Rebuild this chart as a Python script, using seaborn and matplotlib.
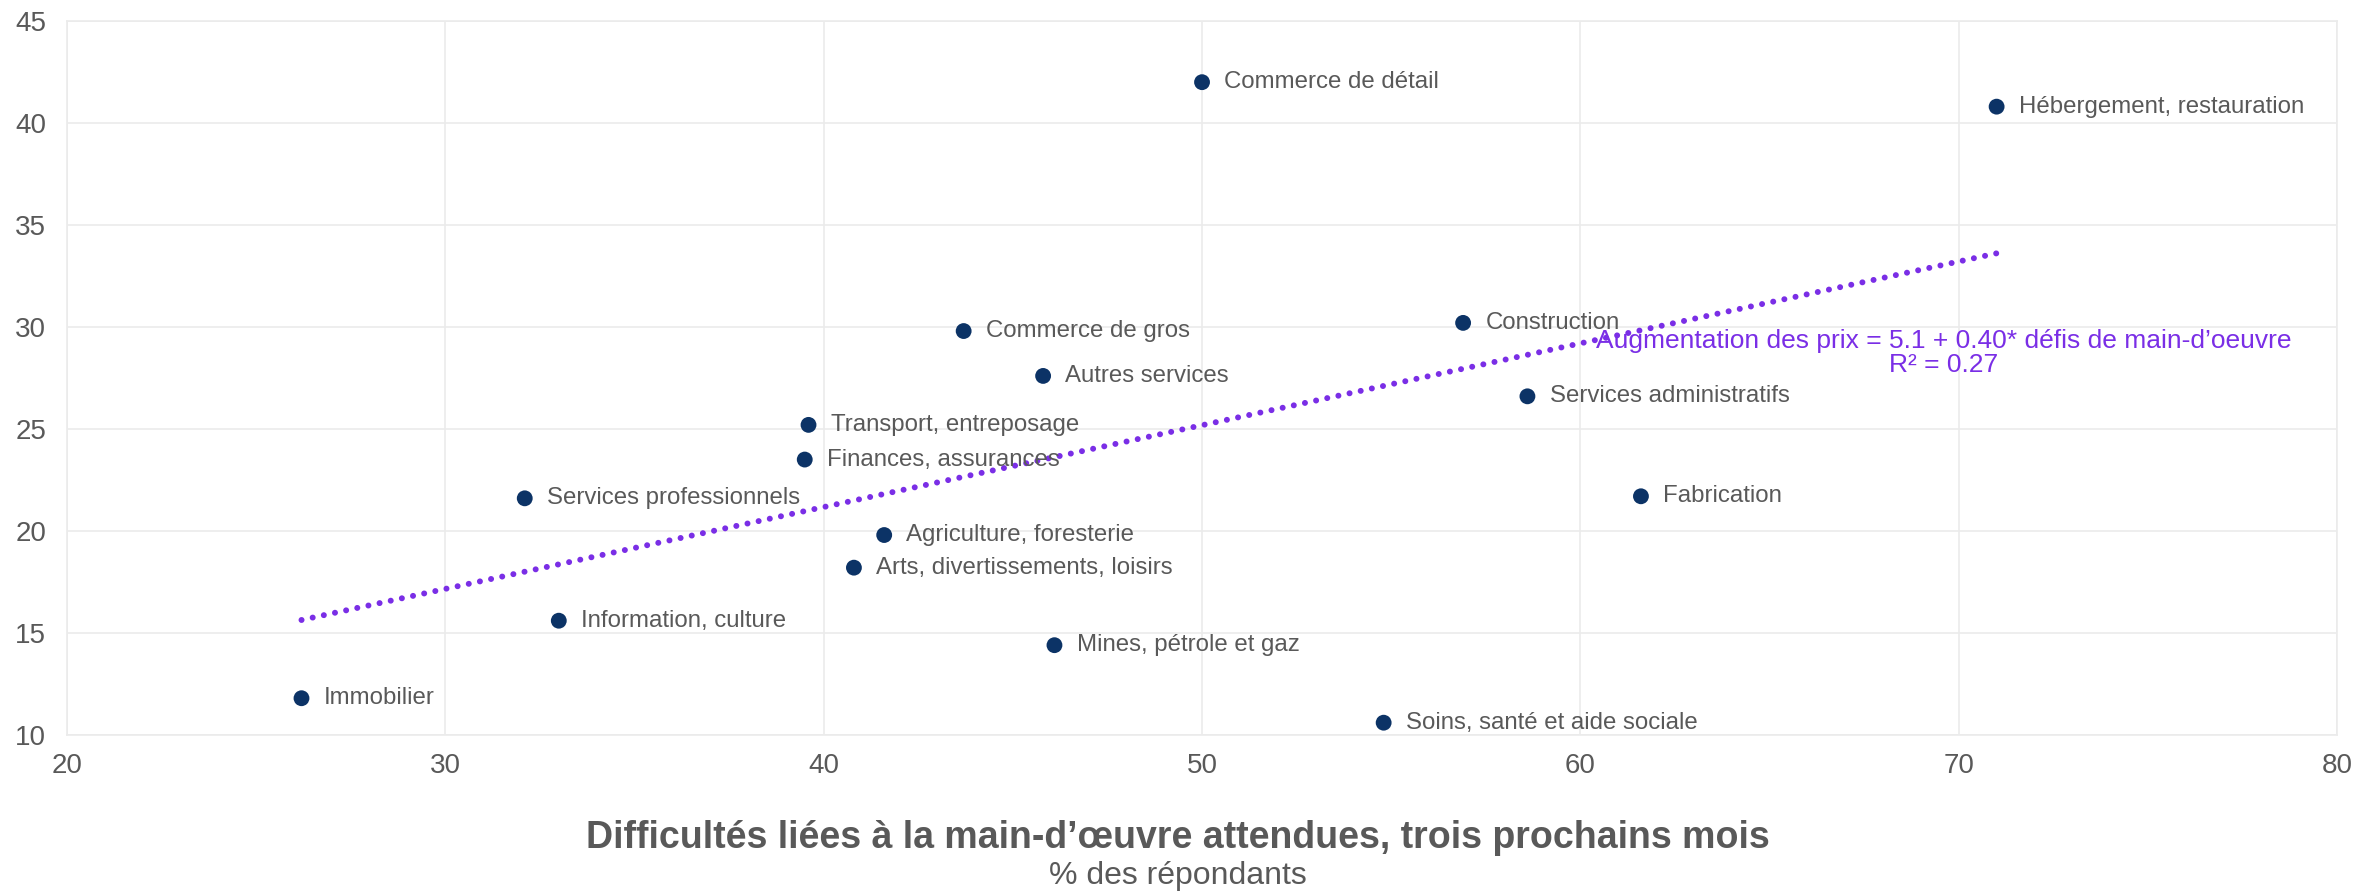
import numpy as np
import pandas as pd
import matplotlib
matplotlib.use("Agg")
import matplotlib.pyplot as plt
import seaborn as sns

# Data
sectors = [
    "Immobilier", "Information, culture", "Services professionnels",
    "Finances, assurances", "Transport, entreposage", "Agriculture, foresterie",
    "Arts, divertissements, loisirs", "Commerce de gros", "Autres services",
    "Mines, pétrole et gaz", "Commerce de détail", "Soins, santé et aide sociale",
    "Construction", "Services administratifs", "Fabrication",
    "Hébergement, restauration",
]
labour_difficulty = [26.2, 33.0, 32.1, 39.5, 39.6, 41.6, 40.8, 43.7, 45.8,
                     46.1, 50.0, 54.8, 56.9, 58.6, 61.6, 71.0]
price_increase = [11.8, 15.6, 21.6, 23.5, 25.2, 19.8, 18.2, 29.8, 27.6,
                  14.4, 42.0, 10.6, 30.2, 26.6, 21.7, 40.8]

x_ticks = [20, 30, 40, 50, 60, 70, 80]
y_ticks = [10, 15, 20, 25, 30, 35, 40, 45]

df = pd.DataFrame({"secteur": sectors, "x": labour_difficulty, "y": price_increase})

navy = "#0C3366"
purple = "#7A2EE6"
grey_txt = "#595959"
grid_col = "#EBEBEB"

sns.set_style("white")
plt.rcParams["font.family"] = ["Liberation Sans", "DejaVu Sans"]

fig = plt.figure(figsize=(23.56, 8.93), dpi=100)
ax = fig.add_axes([0.0284, 0.177, 0.9636, 0.7995])

# trend line (least squares fit over the data)
sns.regplot(data=df, x="x", y="y", scatter=False, ci=None, ax=ax,
            line_kws={"color": purple, "linestyle": (0, (0.01, 1.9)),
                      "linewidth": 4.3, "dash_capstyle": "round"})
sns.scatterplot(data=df, x="x", y="y", ax=ax, color=navy, s=130,
                edgecolor="none", zorder=3)

for _, row in df.iterrows():
    ax.annotate(row["secteur"], (row["x"], row["y"]), xytext=(16, 0),
                textcoords="offset points", va="center", ha="left",
                fontsize=17.3, color=grey_txt)

ax.text(69.6, 28.7, "Augmentation des prix = 5.1 + 0.40* défis de main-d’oeuvre\nR² = 0.27",
        ha="center", va="center", fontsize=19, color=purple, linespacing=1.0)

ax.set_xlim(20, 80)
ax.set_ylim(10, 45)
ax.set_xticks(x_ticks)
ax.set_yticks(y_ticks)
ax.tick_params(axis="both", length=0, labelsize=20, labelcolor=grey_txt)
ax.tick_params(axis="x", pad=13)
ax.tick_params(axis="y", pad=15)
ax.grid(True, color=grid_col, linewidth=1.2)
ax.set_axisbelow(True)
for sp in ax.spines.values():
    sp.set_color(grid_col)
    sp.set_linewidth(1.2)
ax.set_xlabel("")
ax.set_ylabel("")

fig.text(0.5, 1 - 838 / 893, "Difficultés liées à la main-d’œuvre attendues, trois prochains mois",
         ha="center", va="center", fontsize=27, fontweight="bold", color=grey_txt)
fig.text(0.5, 1 - 876 / 893, "% des répondants", ha="center", va="center",
         fontsize=23, color=grey_txt)

fig.savefig("out.png", dpi=100)
